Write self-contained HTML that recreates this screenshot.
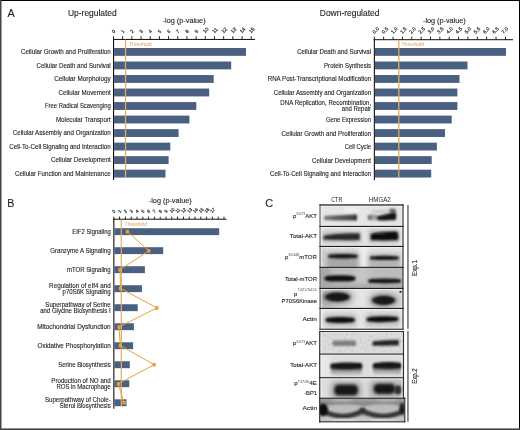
<!DOCTYPE html>
<html><head><meta charset="utf-8"><style>
html,body{margin:0;padding:0;background:#fff;}
#f{position:relative;width:520px;height:430px;overflow:hidden;background:#fff;}
svg{position:absolute;left:0;top:0;will-change:transform;}
text{font-family:'Liberation Sans', sans-serif;}
</style></head><body><div id="f">
<svg width="520" height="430" viewBox="0 0 520 430">
<defs><filter id="g05" x="-50%" y="-100%" width="200%" height="300%"><feGaussianBlur stdDeviation="0.5"/></filter><filter id="g08" x="-50%" y="-100%" width="200%" height="300%"><feGaussianBlur stdDeviation="0.8"/></filter><filter id="g1" x="-50%" y="-100%" width="200%" height="300%"><feGaussianBlur stdDeviation="1.0"/></filter><filter id="g13" x="-50%" y="-100%" width="200%" height="300%"><feGaussianBlur stdDeviation="1.3"/></filter><filter id="g18" x="-50%" y="-100%" width="200%" height="300%"><feGaussianBlur stdDeviation="1.8"/></filter><filter id="g25" x="-50%" y="-100%" width="200%" height="300%"><feGaussianBlur stdDeviation="2.5"/></filter><filter id="g35" x="-50%" y="-100%" width="200%" height="300%"><feGaussianBlur stdDeviation="3.5"/></filter><filter id="nz" x="0" y="0" width="100%" height="100%"><feTurbulence type="fractalNoise" baseFrequency="0.45" numOctaves="2" seed="7" result="t"/><feColorMatrix in="t" type="matrix" values="0 0 0 0 0  0 0 0 0 0  0 0 0 0 0  1.6 0 0 0 -0.75"/></filter><linearGradient id="lg1" x1="0" y1="0" x2="1" y2="0"><stop offset="0" stop-color="#7c7c7c"/><stop offset="0.4" stop-color="#5c5c5c"/><stop offset="0.85" stop-color="#484848"/><stop offset="1" stop-color="#252525"/></linearGradient><clipPath id="c1"><rect x="320.0" y="204.95" width="83.0" height="21.5"/></clipPath><clipPath id="c2"><rect x="320.0" y="226.45" width="83.0" height="20.0"/></clipPath><clipPath id="c3"><rect x="320.0" y="246.45" width="83.0" height="20.900000000000034"/></clipPath><clipPath id="c4"><rect x="320.0" y="267.35" width="83.0" height="21.099999999999966"/></clipPath><clipPath id="c5"><rect x="320.0" y="288.45" width="83.0" height="20.0"/></clipPath><clipPath id="c6"><rect x="320.0" y="308.45" width="83.0" height="20.80000000000001"/></clipPath><clipPath id="c7"><rect x="319.7" y="331.55" width="83.80000000000001" height="22.55000000000001"/></clipPath><linearGradient id="lgsm" x1="0" y1="0" x2="0" y2="1"><stop offset="0" stop-color="#4a4a4a"/><stop offset="0.5" stop-color="#8e8e8e"/><stop offset="1" stop-color="#cacaca"/></linearGradient><clipPath id="c8"><rect x="319.7" y="354.1" width="83.80000000000001" height="23.599999999999966"/></clipPath><clipPath id="c9"><rect x="319.7" y="377.7" width="83.80000000000001" height="20.5"/></clipPath><clipPath id="c10"><rect x="319.7" y="398.2" width="85.10000000000002" height="23.650000000000034"/></clipPath></defs>
<rect x="0" y="0" width="520" height="430" fill="#fff"/>
<text x="7.60" y="17.10" font-size="11.2" textLength="7.20" lengthAdjust="spacingAndGlyphs" fill="#231f20" stroke="#231f20" stroke-width="0.12">A</text>
<text x="68.00" y="16.20" font-size="8.4" textLength="48.70" lengthAdjust="spacingAndGlyphs" fill="#231f20" stroke="#231f20" stroke-width="0.12">Up-regulated</text>
<text x="162.70" y="22.60" font-size="7.25" textLength="42.90" lengthAdjust="spacingAndGlyphs" fill="#231f20" stroke="#231f20" stroke-width="0.12">-log (p-value)</text>
<rect x="113.00" y="38.95" width="142.00" height="1.00" fill="#111" />
<rect x="113.00" y="38.70" width="1.10" height="141.30" fill="#111" />
<rect x="113.05" y="36.20" width="0.90" height="3.00" fill="#111" />
<text transform="translate(113.80,33.50) rotate(-45)" font-size="4.8" fill="#231f20" stroke="#231f20" stroke-width="0.18">0</text>
<rect x="122.23" y="36.20" width="0.90" height="3.00" fill="#111" />
<text transform="translate(122.98,33.50) rotate(-45)" font-size="4.8" fill="#231f20" stroke="#231f20" stroke-width="0.18">1</text>
<rect x="131.41" y="36.20" width="0.90" height="3.00" fill="#111" />
<text transform="translate(132.16,33.50) rotate(-45)" font-size="4.8" fill="#231f20" stroke="#231f20" stroke-width="0.18">2</text>
<rect x="140.59" y="36.20" width="0.90" height="3.00" fill="#111" />
<text transform="translate(141.34,33.50) rotate(-45)" font-size="4.8" fill="#231f20" stroke="#231f20" stroke-width="0.18">3</text>
<rect x="149.77" y="36.20" width="0.90" height="3.00" fill="#111" />
<text transform="translate(150.52,33.50) rotate(-45)" font-size="4.8" fill="#231f20" stroke="#231f20" stroke-width="0.18">4</text>
<rect x="158.95" y="36.20" width="0.90" height="3.00" fill="#111" />
<text transform="translate(159.70,33.50) rotate(-45)" font-size="4.8" fill="#231f20" stroke="#231f20" stroke-width="0.18">5</text>
<rect x="168.13" y="36.20" width="0.90" height="3.00" fill="#111" />
<text transform="translate(168.88,33.50) rotate(-45)" font-size="4.8" fill="#231f20" stroke="#231f20" stroke-width="0.18">6</text>
<rect x="177.31" y="36.20" width="0.90" height="3.00" fill="#111" />
<text transform="translate(178.06,33.50) rotate(-45)" font-size="4.8" fill="#231f20" stroke="#231f20" stroke-width="0.18">7</text>
<rect x="186.49" y="36.20" width="0.90" height="3.00" fill="#111" />
<text transform="translate(187.24,33.50) rotate(-45)" font-size="4.8" fill="#231f20" stroke="#231f20" stroke-width="0.18">8</text>
<rect x="195.67" y="36.20" width="0.90" height="3.00" fill="#111" />
<text transform="translate(196.42,33.50) rotate(-45)" font-size="4.8" fill="#231f20" stroke="#231f20" stroke-width="0.18">9</text>
<rect x="204.85" y="36.20" width="0.90" height="3.00" fill="#111" />
<text transform="translate(205.10,33.40) rotate(-45)" font-size="5.1" fill="#231f20" stroke="#231f20" stroke-width="0.18">10</text>
<rect x="214.03" y="36.20" width="0.90" height="3.00" fill="#111" />
<text transform="translate(214.28,33.40) rotate(-45)" font-size="5.1" fill="#231f20" stroke="#231f20" stroke-width="0.18">11</text>
<rect x="223.21" y="36.20" width="0.90" height="3.00" fill="#111" />
<text transform="translate(223.46,33.40) rotate(-45)" font-size="5.1" fill="#231f20" stroke="#231f20" stroke-width="0.18">12</text>
<rect x="232.39" y="36.20" width="0.90" height="3.00" fill="#111" />
<text transform="translate(232.64,33.40) rotate(-45)" font-size="5.1" fill="#231f20" stroke="#231f20" stroke-width="0.18">13</text>
<rect x="241.57" y="36.20" width="0.90" height="3.00" fill="#111" />
<text transform="translate(241.82,33.40) rotate(-45)" font-size="5.1" fill="#231f20" stroke="#231f20" stroke-width="0.18">14</text>
<rect x="250.75" y="36.20" width="0.90" height="3.00" fill="#111" />
<text transform="translate(251.00,33.40) rotate(-45)" font-size="5.1" fill="#231f20" stroke="#231f20" stroke-width="0.18">15</text>
<rect x="114.10" y="48.00" width="131.90" height="7.85" fill="#4a6080" />
<text x="21.00" y="54.30" font-size="6.6" textLength="89.70" lengthAdjust="spacingAndGlyphs" fill="#231f20" stroke="#231f20" stroke-width="0.12">Cellular Growth and Proliferation</text>
<rect x="114.10" y="61.52" width="117.10" height="7.85" fill="#4a6080" />
<text x="36.50" y="67.82" font-size="6.6" textLength="74.20" lengthAdjust="spacingAndGlyphs" fill="#231f20" stroke="#231f20" stroke-width="0.12">Cellular Death and Survival</text>
<rect x="114.10" y="75.04" width="99.60" height="7.85" fill="#4a6080" />
<text x="54.20" y="81.34" font-size="6.6" textLength="56.50" lengthAdjust="spacingAndGlyphs" fill="#231f20" stroke="#231f20" stroke-width="0.12">Cellular Morphology</text>
<rect x="114.10" y="88.56" width="95.10" height="7.85" fill="#4a6080" />
<text x="58.60" y="94.86" font-size="6.6" textLength="52.10" lengthAdjust="spacingAndGlyphs" fill="#231f20" stroke="#231f20" stroke-width="0.12">Cellular Movement</text>
<rect x="114.10" y="102.08" width="82.20" height="7.85" fill="#4a6080" />
<text x="44.90" y="108.38" font-size="6.6" textLength="65.80" lengthAdjust="spacingAndGlyphs" fill="#231f20" stroke="#231f20" stroke-width="0.12">Free Radical Scavenging</text>
<rect x="114.10" y="115.60" width="75.30" height="7.85" fill="#4a6080" />
<text x="55.90" y="121.90" font-size="6.6" textLength="54.80" lengthAdjust="spacingAndGlyphs" fill="#231f20" stroke="#231f20" stroke-width="0.12">Molecular Transport</text>
<rect x="114.10" y="129.12" width="64.50" height="7.85" fill="#4a6080" />
<text x="12.80" y="135.42" font-size="6.6" textLength="97.90" lengthAdjust="spacingAndGlyphs" fill="#231f20" stroke="#231f20" stroke-width="0.12">Cellular Assembly and Organization</text>
<rect x="114.10" y="142.64" width="56.20" height="7.85" fill="#4a6080" />
<text x="9.30" y="148.94" font-size="6.6" textLength="101.40" lengthAdjust="spacingAndGlyphs" fill="#231f20" stroke="#231f20" stroke-width="0.12">Cell-To-Cell Signaling and Interaction</text>
<rect x="114.10" y="156.16" width="54.50" height="7.85" fill="#4a6080" />
<text x="50.90" y="162.46" font-size="6.6" textLength="59.80" lengthAdjust="spacingAndGlyphs" fill="#231f20" stroke="#231f20" stroke-width="0.12">Cellular Development</text>
<rect x="114.10" y="169.68" width="51.40" height="7.85" fill="#4a6080" />
<text x="15.00" y="175.98" font-size="6.6" textLength="95.70" lengthAdjust="spacingAndGlyphs" fill="#231f20" stroke="#231f20" stroke-width="0.12">Cellular Function and Maintenance</text>
<rect x="124.90" y="39.70" width="1.25" height="137.70" fill="#e3ac62" />
<text x="129.00" y="46.00" font-size="5.0" textLength="22.60" lengthAdjust="spacingAndGlyphs" fill="#e4b474" stroke="#e4b474" stroke-width="0.08">Threshold</text>
<text x="319.80" y="16.30" font-size="8.4" textLength="59.60" lengthAdjust="spacingAndGlyphs" fill="#231f20" stroke="#231f20" stroke-width="0.12">Down-regulated</text>
<text x="423.00" y="22.60" font-size="7.25" textLength="42.70" lengthAdjust="spacingAndGlyphs" fill="#231f20" stroke="#231f20" stroke-width="0.12">-log (p-value)</text>
<rect x="373.80" y="39.20" width="139.20" height="1.00" fill="#111" />
<rect x="373.80" y="38.90" width="1.10" height="141.30" fill="#111" />
<rect x="373.85" y="36.70" width="0.90" height="3.00" fill="#111" />
<text transform="translate(374.50,33.90) rotate(-45)" font-size="5.0" fill="#231f20" stroke="#231f20" stroke-width="0.18">0.0</text>
<rect x="383.21" y="36.70" width="0.90" height="3.00" fill="#111" />
<text transform="translate(383.71,33.90) rotate(-45)" font-size="5.0" fill="#231f20" stroke="#231f20" stroke-width="0.18">0.5</text>
<rect x="392.58" y="36.70" width="0.90" height="3.00" fill="#111" />
<text transform="translate(392.93,33.90) rotate(-45)" font-size="5.0" fill="#231f20" stroke="#231f20" stroke-width="0.18">1.0</text>
<rect x="401.94" y="36.70" width="0.90" height="3.00" fill="#111" />
<text transform="translate(402.14,33.90) rotate(-45)" font-size="5.0" fill="#231f20" stroke="#231f20" stroke-width="0.18">1.5</text>
<rect x="411.31" y="36.70" width="0.90" height="3.00" fill="#111" />
<text transform="translate(411.36,33.90) rotate(-45)" font-size="5.0" fill="#231f20" stroke="#231f20" stroke-width="0.18">2.0</text>
<rect x="420.67" y="36.70" width="0.90" height="3.00" fill="#111" />
<text transform="translate(420.57,33.90) rotate(-45)" font-size="5.0" fill="#231f20" stroke="#231f20" stroke-width="0.18">2.5</text>
<rect x="430.03" y="36.70" width="0.90" height="3.00" fill="#111" />
<text transform="translate(429.78,33.90) rotate(-45)" font-size="5.0" fill="#231f20" stroke="#231f20" stroke-width="0.18">3.0</text>
<rect x="439.40" y="36.70" width="0.90" height="3.00" fill="#111" />
<text transform="translate(439.00,33.90) rotate(-45)" font-size="5.0" fill="#231f20" stroke="#231f20" stroke-width="0.18">3.5</text>
<rect x="448.76" y="36.70" width="0.90" height="3.00" fill="#111" />
<text transform="translate(448.21,33.90) rotate(-45)" font-size="5.0" fill="#231f20" stroke="#231f20" stroke-width="0.18">4.0</text>
<rect x="458.13" y="36.70" width="0.90" height="3.00" fill="#111" />
<text transform="translate(457.43,33.90) rotate(-45)" font-size="5.0" fill="#231f20" stroke="#231f20" stroke-width="0.18">4.5</text>
<rect x="467.49" y="36.70" width="0.90" height="3.00" fill="#111" />
<text transform="translate(466.64,33.90) rotate(-45)" font-size="5.0" fill="#231f20" stroke="#231f20" stroke-width="0.18">5.0</text>
<rect x="476.85" y="36.70" width="0.90" height="3.00" fill="#111" />
<text transform="translate(475.85,33.90) rotate(-45)" font-size="5.0" fill="#231f20" stroke="#231f20" stroke-width="0.18">5.5</text>
<rect x="486.22" y="36.70" width="0.90" height="3.00" fill="#111" />
<text transform="translate(485.07,33.90) rotate(-45)" font-size="5.0" fill="#231f20" stroke="#231f20" stroke-width="0.18">6.0</text>
<rect x="495.58" y="36.70" width="0.90" height="3.00" fill="#111" />
<text transform="translate(494.28,33.90) rotate(-45)" font-size="5.0" fill="#231f20" stroke="#231f20" stroke-width="0.18">6.5</text>
<rect x="504.95" y="36.70" width="0.90" height="3.00" fill="#111" />
<text transform="translate(503.50,33.90) rotate(-45)" font-size="5.0" fill="#231f20" stroke="#231f20" stroke-width="0.18">7.0</text>
<rect x="374.90" y="48.00" width="131.10" height="7.85" fill="#4a6080" />
<text x="297.20" y="54.40" font-size="6.6" textLength="73.90" lengthAdjust="spacingAndGlyphs" fill="#231f20" stroke="#231f20" stroke-width="0.12">Cellular Death and Survival</text>
<rect x="374.90" y="61.52" width="92.60" height="7.85" fill="#4a6080" />
<text x="324.10" y="67.92" font-size="6.6" textLength="47.00" lengthAdjust="spacingAndGlyphs" fill="#231f20" stroke="#231f20" stroke-width="0.12">Protein Synthesis</text>
<rect x="374.90" y="75.04" width="84.60" height="7.85" fill="#4a6080" />
<text x="267.70" y="81.44" font-size="6.6" textLength="103.40" lengthAdjust="spacingAndGlyphs" fill="#231f20" stroke="#231f20" stroke-width="0.12">RNA Post-Transcriptional Modification</text>
<rect x="374.90" y="88.56" width="82.50" height="7.85" fill="#4a6080" />
<text x="273.70" y="94.96" font-size="6.6" textLength="97.40" lengthAdjust="spacingAndGlyphs" fill="#231f20" stroke="#231f20" stroke-width="0.12">Cellular Assembly and Organization</text>
<rect x="374.90" y="102.08" width="82.50" height="7.85" fill="#4a6080" />
<text x="280.30" y="104.90" font-size="6.6" textLength="90.80" lengthAdjust="spacingAndGlyphs" fill="#231f20" stroke="#231f20" stroke-width="0.12">DNA Replication, Recombination,</text>
<text x="341.80" y="111.10" font-size="6.6" textLength="29.30" lengthAdjust="spacingAndGlyphs" fill="#231f20" stroke="#231f20" stroke-width="0.12">and Repair</text>
<rect x="374.90" y="115.60" width="76.80" height="7.85" fill="#4a6080" />
<text x="325.90" y="122.00" font-size="6.6" textLength="45.20" lengthAdjust="spacingAndGlyphs" fill="#231f20" stroke="#231f20" stroke-width="0.12">Gene Expression</text>
<rect x="374.90" y="129.12" width="70.10" height="7.85" fill="#4a6080" />
<text x="281.50" y="135.52" font-size="6.6" textLength="89.60" lengthAdjust="spacingAndGlyphs" fill="#231f20" stroke="#231f20" stroke-width="0.12">Cellular Growth and Proliferation</text>
<rect x="374.90" y="142.64" width="62.00" height="7.85" fill="#4a6080" />
<text x="344.70" y="149.04" font-size="6.6" textLength="26.40" lengthAdjust="spacingAndGlyphs" fill="#231f20" stroke="#231f20" stroke-width="0.12">Cell Cycle</text>
<rect x="374.90" y="156.16" width="56.80" height="7.85" fill="#4a6080" />
<text x="312.00" y="162.56" font-size="6.6" textLength="59.10" lengthAdjust="spacingAndGlyphs" fill="#231f20" stroke="#231f20" stroke-width="0.12">Cellular Development</text>
<rect x="374.90" y="169.68" width="56.30" height="7.85" fill="#4a6080" />
<text x="270.00" y="176.08" font-size="6.6" textLength="101.10" lengthAdjust="spacingAndGlyphs" fill="#231f20" stroke="#231f20" stroke-width="0.12">Cell-To-Cell Signaling and Interaction</text>
<rect x="398.20" y="39.90" width="1.25" height="137.50" fill="#e3ac62" />
<text x="401.50" y="46.00" font-size="5.0" textLength="22.60" lengthAdjust="spacingAndGlyphs" fill="#e4b474" stroke="#e4b474" stroke-width="0.08">Threshold</text>
<text x="7.20" y="206.60" font-size="11.0" textLength="7.10" lengthAdjust="spacingAndGlyphs" fill="#231f20" stroke="#231f20" stroke-width="0.12">B</text>
<text x="148.80" y="202.60" font-size="7.25" textLength="42.90" lengthAdjust="spacingAndGlyphs" fill="#231f20" stroke="#231f20" stroke-width="0.12">-log (p-value)</text>
<rect x="113.30" y="218.70" width="113.30" height="1.00" fill="#111" />
<rect x="113.30" y="218.70" width="1.10" height="190.10" fill="#111" />
<rect x="113.35" y="216.60" width="0.90" height="2.60" fill="#111" />
<text transform="translate(114.00,213.30) rotate(-45)" font-size="4.5" fill="#231f20" stroke="#231f20" stroke-width="0.18">0</text>
<rect x="119.15" y="216.60" width="0.90" height="2.60" fill="#111" />
<text transform="translate(119.80,213.30) rotate(-45)" font-size="4.5" fill="#231f20" stroke="#231f20" stroke-width="0.18">1</text>
<rect x="124.95" y="216.60" width="0.90" height="2.60" fill="#111" />
<text transform="translate(125.60,213.30) rotate(-45)" font-size="4.5" fill="#231f20" stroke="#231f20" stroke-width="0.18">2</text>
<rect x="130.75" y="216.60" width="0.90" height="2.60" fill="#111" />
<text transform="translate(131.40,213.30) rotate(-45)" font-size="4.5" fill="#231f20" stroke="#231f20" stroke-width="0.18">3</text>
<rect x="136.55" y="216.60" width="0.90" height="2.60" fill="#111" />
<text transform="translate(137.20,213.30) rotate(-45)" font-size="4.5" fill="#231f20" stroke="#231f20" stroke-width="0.18">4</text>
<rect x="142.35" y="216.60" width="0.90" height="2.60" fill="#111" />
<text transform="translate(143.00,213.30) rotate(-45)" font-size="4.5" fill="#231f20" stroke="#231f20" stroke-width="0.18">5</text>
<rect x="148.15" y="216.60" width="0.90" height="2.60" fill="#111" />
<text transform="translate(148.80,213.30) rotate(-45)" font-size="4.5" fill="#231f20" stroke="#231f20" stroke-width="0.18">6</text>
<rect x="153.95" y="216.60" width="0.90" height="2.60" fill="#111" />
<text transform="translate(154.60,213.30) rotate(-45)" font-size="4.5" fill="#231f20" stroke="#231f20" stroke-width="0.18">7</text>
<rect x="159.75" y="216.60" width="0.90" height="2.60" fill="#111" />
<text transform="translate(160.40,213.30) rotate(-45)" font-size="4.5" fill="#231f20" stroke="#231f20" stroke-width="0.18">8</text>
<rect x="165.55" y="216.60" width="0.90" height="2.60" fill="#111" />
<text transform="translate(166.20,213.30) rotate(-45)" font-size="4.5" fill="#231f20" stroke="#231f20" stroke-width="0.18">9</text>
<rect x="171.35" y="216.60" width="0.90" height="2.60" fill="#111" />
<text transform="translate(171.50,213.30) rotate(-45)" font-size="4.5" fill="#231f20" stroke="#231f20" stroke-width="0.18">10</text>
<rect x="177.15" y="216.60" width="0.90" height="2.60" fill="#111" />
<text transform="translate(177.30,213.30) rotate(-45)" font-size="4.5" fill="#231f20" stroke="#231f20" stroke-width="0.18">11</text>
<rect x="182.95" y="216.60" width="0.90" height="2.60" fill="#111" />
<text transform="translate(183.10,213.30) rotate(-45)" font-size="4.5" fill="#231f20" stroke="#231f20" stroke-width="0.18">12</text>
<rect x="188.75" y="216.60" width="0.90" height="2.60" fill="#111" />
<text transform="translate(188.90,213.30) rotate(-45)" font-size="4.5" fill="#231f20" stroke="#231f20" stroke-width="0.18">13</text>
<rect x="194.55" y="216.60" width="0.90" height="2.60" fill="#111" />
<text transform="translate(194.70,213.30) rotate(-45)" font-size="4.5" fill="#231f20" stroke="#231f20" stroke-width="0.18">14</text>
<rect x="200.35" y="216.60" width="0.90" height="2.60" fill="#111" />
<text transform="translate(200.50,213.30) rotate(-45)" font-size="4.5" fill="#231f20" stroke="#231f20" stroke-width="0.18">15</text>
<rect x="206.15" y="216.60" width="0.90" height="2.60" fill="#111" />
<text transform="translate(206.30,213.30) rotate(-45)" font-size="4.5" fill="#231f20" stroke="#231f20" stroke-width="0.18">16</text>
<rect x="211.95" y="216.60" width="0.90" height="2.60" fill="#111" />
<text transform="translate(212.10,213.30) rotate(-45)" font-size="4.5" fill="#231f20" stroke="#231f20" stroke-width="0.18">17</text>
<rect x="217.75" y="216.60" width="0.90" height="2.60" fill="#111" />
<rect x="223.55" y="216.60" width="0.90" height="2.60" fill="#111" />
<rect x="114.40" y="228.20" width="104.80" height="6.90" fill="#4a6080" />
<text x="72.30" y="233.55" font-size="6.6" textLength="38.40" lengthAdjust="spacingAndGlyphs" fill="#231f20" stroke="#231f20" stroke-width="0.12">EIF2 Signaling</text>
<rect x="114.40" y="247.21" width="48.80" height="6.90" fill="#4a6080" />
<text x="50.20" y="252.56" font-size="6.6" textLength="60.50" lengthAdjust="spacingAndGlyphs" fill="#231f20" stroke="#231f20" stroke-width="0.12">Granzyme A Signaling</text>
<rect x="114.40" y="266.22" width="30.50" height="6.90" fill="#4a6080" />
<text x="67.00" y="271.57" font-size="6.6" textLength="43.70" lengthAdjust="spacingAndGlyphs" fill="#231f20" stroke="#231f20" stroke-width="0.12">mTOR Signaling</text>
<rect x="114.40" y="285.23" width="27.50" height="6.90" fill="#4a6080" />
<text x="49.10" y="287.58" font-size="6.6" textLength="61.60" lengthAdjust="spacingAndGlyphs" fill="#231f20" stroke="#231f20" stroke-width="0.12">Regulation of eIf4 and</text>
<text x="62.60" y="294.08" font-size="6.6" textLength="48.10" lengthAdjust="spacingAndGlyphs" fill="#231f20" stroke="#231f20" stroke-width="0.12">p70S6K Signaling</text>
<rect x="114.40" y="304.24" width="23.30" height="6.90" fill="#4a6080" />
<text x="45.30" y="306.59" font-size="6.6" textLength="65.40" lengthAdjust="spacingAndGlyphs" fill="#231f20" stroke="#231f20" stroke-width="0.12">Superpathway of Serine</text>
<text x="40.20" y="313.09" font-size="6.6" textLength="70.50" lengthAdjust="spacingAndGlyphs" fill="#231f20" stroke="#231f20" stroke-width="0.12">and Glycine Biosynthesis I</text>
<rect x="114.40" y="323.25" width="19.50" height="6.90" fill="#4a6080" />
<text x="37.20" y="328.60" font-size="6.6" textLength="73.50" lengthAdjust="spacingAndGlyphs" fill="#231f20" stroke="#231f20" stroke-width="0.12">Mitochondrial Dysfunction</text>
<rect x="114.40" y="342.26" width="18.70" height="6.90" fill="#4a6080" />
<text x="37.60" y="347.61" font-size="6.6" textLength="73.10" lengthAdjust="spacingAndGlyphs" fill="#231f20" stroke="#231f20" stroke-width="0.12">Oxidative Phosphorylation</text>
<rect x="114.40" y="361.27" width="15.40" height="6.90" fill="#4a6080" />
<text x="58.20" y="366.62" font-size="6.6" textLength="52.50" lengthAdjust="spacingAndGlyphs" fill="#231f20" stroke="#231f20" stroke-width="0.12">Serine Biosynthesis</text>
<rect x="114.40" y="380.28" width="14.90" height="6.90" fill="#4a6080" />
<text x="51.30" y="382.63" font-size="6.6" textLength="59.40" lengthAdjust="spacingAndGlyphs" fill="#231f20" stroke="#231f20" stroke-width="0.12">Production of NO and</text>
<text x="56.40" y="389.13" font-size="6.6" textLength="54.30" lengthAdjust="spacingAndGlyphs" fill="#231f20" stroke="#231f20" stroke-width="0.12">ROS in Macrophage</text>
<rect x="114.40" y="399.29" width="12.10" height="6.90" fill="#4a6080" />
<text x="44.90" y="401.64" font-size="6.6" textLength="65.80" lengthAdjust="spacingAndGlyphs" fill="#231f20" stroke="#231f20" stroke-width="0.12">Superpathway of Chole-</text>
<text x="59.70" y="408.14" font-size="6.6" textLength="51.00" lengthAdjust="spacingAndGlyphs" fill="#231f20" stroke="#231f20" stroke-width="0.12">Sterol Biosynthesis</text>
<rect x="120.70" y="219.70" width="1.20" height="186.30" fill="#e3ac62" />
<text x="124.60" y="226.40" font-size="5.0" textLength="22.40" lengthAdjust="spacingAndGlyphs" fill="#e4b474" stroke="#e4b474" stroke-width="0.08">Threshold</text>
<polyline points="127.4,231.6 148.8,250.8 120.0,269.7 120.5,288.4 156.9,307.9 119.0,327.0 120.3,345.5 154.1,364.6 118.3,383.8 124.0,402.6" fill="none" stroke="#eba03a" stroke-width="1"/>
<rect x="125.80" y="229.90" width="3.20" height="3.60" fill="#eba03a" />
<rect x="147.20" y="249.10" width="3.20" height="3.60" fill="#eba03a" />
<rect x="118.40" y="268.00" width="3.20" height="3.60" fill="#eba03a" />
<rect x="118.90" y="286.70" width="3.20" height="3.60" fill="#eba03a" />
<rect x="155.30" y="306.20" width="3.20" height="3.60" fill="#eba03a" />
<rect x="117.40" y="325.30" width="3.20" height="3.60" fill="#eba03a" />
<rect x="118.70" y="343.80" width="3.20" height="3.60" fill="#eba03a" />
<rect x="152.50" y="362.90" width="3.20" height="3.60" fill="#eba03a" />
<rect x="116.70" y="382.10" width="3.20" height="3.60" fill="#eba03a" />
<rect x="122.40" y="400.90" width="3.20" height="3.60" fill="#eba03a" />
<text x="265.30" y="206.60" font-size="11.0" textLength="7.90" lengthAdjust="spacingAndGlyphs" fill="#231f20" stroke="#231f20" stroke-width="0.12">C</text>
<text x="331.20" y="202.30" font-size="6.3" textLength="11.10" lengthAdjust="spacingAndGlyphs" fill="#231f20" stroke="#231f20" stroke-width="0">CTR</text>
<text x="368.80" y="202.30" font-size="6.3" textLength="22.00" lengthAdjust="spacingAndGlyphs" fill="#231f20" stroke="#231f20" stroke-width="0">HMGA2</text>
<text x="316.8" y="217.60" font-size="6.0" text-anchor="end" fill="#231f20" stroke="#231f20" stroke-width="0.12">p<tspan font-size="3.8" dy="-2.6" fill="#555" stroke="none">S473</tspan><tspan dy="2.6">AKT</tspan></text>
<text x="289.80" y="238.40" font-size="6.0" textLength="27.20" lengthAdjust="spacingAndGlyphs" fill="#231f20" stroke="#231f20" stroke-width="0.12">Total-AKT</text>
<text x="316.8" y="259.00" font-size="6.0" text-anchor="end" fill="#231f20" stroke="#231f20" stroke-width="0.12">p<tspan font-size="3.8" dy="-2.6" fill="#555" stroke="none">S2448</tspan><tspan dy="2.6">mTOR</tspan></text>
<text x="285.00" y="281.30" font-size="6.0" textLength="32.00" lengthAdjust="spacingAndGlyphs" fill="#231f20" stroke="#231f20" stroke-width="0.12">Total-mTOR</text>
<text x="316.8" y="296.4" font-size="6.0" text-anchor="end" fill="#231f20" stroke="#231f20" stroke-width="0.12">p<tspan font-size="4.0" dy="-5.5" fill="#555" stroke="none">T421/S424</tspan></text>
<text x="281.60" y="303.40" font-size="6.0" textLength="35.40" lengthAdjust="spacingAndGlyphs" fill="#231f20" stroke="#231f20" stroke-width="0.12">P70S6Kinase</text>
<text x="302.40" y="321.30" font-size="6.0" textLength="14.60" lengthAdjust="spacingAndGlyphs" fill="#231f20" stroke="#231f20" stroke-width="0.12">Actin</text>
<text x="316.8" y="345.20" font-size="6.0" text-anchor="end" fill="#231f20" stroke="#231f20" stroke-width="0.12">p<tspan font-size="3.8" dy="-2.6" fill="#555" stroke="none">S473</tspan><tspan dy="2.6">AKT</tspan></text>
<text x="290.20" y="366.80" font-size="6.0" textLength="26.80" lengthAdjust="spacingAndGlyphs" fill="#231f20" stroke="#231f20" stroke-width="0.12">Total-AKT</text>
<text x="316.8" y="385.20" font-size="6.0" text-anchor="end" fill="#231f20" stroke="#231f20" stroke-width="0.12">p<tspan font-size="3.8" dy="-2.6" fill="#555" stroke="none">T37/46</tspan><tspan dy="2.6">4E</tspan></text>
<text x="304.20" y="394.50" font-size="6.0" textLength="12.80" lengthAdjust="spacingAndGlyphs" fill="#231f20" stroke="#231f20" stroke-width="0.12">-BP1</text>
<text x="302.60" y="410.30" font-size="6.0" textLength="14.40" lengthAdjust="spacingAndGlyphs" fill="#231f20" stroke="#231f20" stroke-width="0.12">Actin</text>
<rect x="407.30" y="205.10" width="1.30" height="123.70" fill="#555" />
<rect x="407.30" y="330.80" width="1.30" height="90.90" fill="#555" />
<text transform="translate(416.8,275.9) rotate(-90)" font-size="6.6" textLength="15.8" lengthAdjust="spacingAndGlyphs" fill="#231f20" stroke="#231f20" stroke-width="0.1">Exp.1</text>
<text transform="translate(416.8,383.8) rotate(-90)" font-size="6.6" textLength="15.5" lengthAdjust="spacingAndGlyphs" fill="#231f20" stroke="#231f20" stroke-width="0.1">Exp.2</text>
<g clip-path="url(#c1)">
<rect x="320.00" y="204.95" width="83.00" height="21.50" fill="#e5e5e5" />
<rect x="345.00" y="207.00" width="15.00" height="6.00" rx="3" fill="#efefef" filter="url(#g18)"/>
<path d="M324.2,216.0 C334,215.4 346,215.0 356.9,214.5 L356.9,220.4 C346,220.6 334,220.5 324.2,220.0 Z" fill="url(#lg1)" filter="url(#g08)"/>
<ellipse cx="373.00" cy="217.30" rx="5.80" ry="3.00" fill="#9c9c9c" filter="url(#g1)"/>
<ellipse cx="369.80" cy="217.60" rx="1.60" ry="2.40" fill="#6a6a6a" filter="url(#g08)"/>
<ellipse cx="380.00" cy="211.50" rx="9.00" ry="1.60" fill="#c8c8c8" filter="url(#g13)"/>
<ellipse cx="392.50" cy="210.80" rx="3.50" ry="2.20" fill="#666" filter="url(#g1)"/>
<path d="M378,216 C384,214.5 390,213 394,212.2 C396.6,212.2 396.6,215 396.1,217 L395.9,220.1 C389,220.7 383,220.7 378,220.3 C376.6,219 376.6,217 378,216 Z" fill="#141414" filter="url(#g08)"/>
<rect x="321.20" y="204.95" width="1.0" height="21.50" fill="#f4f4f4" opacity="0.7"/>
<rect x="400.80" y="204.95" width="1.0" height="21.50" fill="#f4f4f4" opacity="0.5"/>
<rect x="320.0" y="205.55" width="83.00" height="1.0" fill="#f6f6f6" opacity="0.6"/>
</g>
<g clip-path="url(#c2)">
<rect x="320.00" y="226.45" width="83.00" height="20.00" fill="#e4e4e4" />
<rect x="321.00" y="230.50" width="41.00" height="13.00" rx="4" fill="#c6c6c6" filter="url(#g18)"/>
<rect x="368.00" y="229.50" width="32.00" height="14.00" rx="4" fill="#c2c2c2" filter="url(#g18)"/>
<path d="M323.5,235.8 C335,233.6 350,233.2 359.8,233.4 L359.8,239.9 C350,240.3 335,240.3 323.5,239.6 Z" fill="#2a2a2a" filter="url(#g08)"/>
<path d="M370.7,234 C378,232 388,231.4 396,231.5 C398.5,231.8 398.5,236 398,240 C388,240.6 378,240.5 370.7,240 Z" fill="#101010" filter="url(#g08)"/>
<rect x="373.00" y="233.20" width="12.00" height="1.40" rx="0.7" fill="#3a3a3a" filter="url(#g05)"/>
<rect x="321.20" y="226.45" width="1.0" height="20.00" fill="#f4f4f4" opacity="0.7"/>
<rect x="400.80" y="226.45" width="1.0" height="20.00" fill="#f4f4f4" opacity="0.5"/>
<rect x="320.0" y="227.05" width="83.00" height="1.0" fill="#f6f6f6" opacity="0.6"/>
</g>
<g clip-path="url(#c3)">
<rect x="320.00" y="246.45" width="83.00" height="20.90" fill="#e0e0e0" />
<rect x="318.00" y="246.00" width="8.00" height="22.00" rx="0" fill="#cdcdcd" filter="url(#g25)"/>
<rect x="358.00" y="246.00" width="10.00" height="22.00" rx="0" fill="#efefef" filter="url(#g25)"/>
<rect x="326.00" y="252.00" width="33.00" height="18.00" rx="3" fill="#a6a6a6" filter="url(#g25)"/>
<rect x="368.00" y="254.00" width="33.00" height="16.00" rx="3" fill="#b4b4b4" filter="url(#g25)"/>
<path d="M329.50,254.80 C336.23,253.70 349.67,253.70 356.40,254.80 C358.20,254.80 358.20,257.80 356.40,257.80 C349.67,258.90 336.23,258.90 329.50,257.80 C327.70,257.80 327.70,254.80 329.50,254.80 Z" fill="#121212" filter="url(#g08)"/>
<path d="M371.20,256.40 C377.80,255.50 391.00,255.50 397.60,256.40 C399.40,256.40 399.40,259.40 397.60,259.40 C391.00,260.30 377.80,260.30 371.20,259.40 C369.40,259.40 369.40,256.40 371.20,256.40 Z" fill="#181818" filter="url(#g08)"/>
<rect x="321.20" y="246.45" width="1.0" height="20.90" fill="#f4f4f4" opacity="0.7"/>
<rect x="400.80" y="246.45" width="1.0" height="20.90" fill="#f4f4f4" opacity="0.5"/>
<rect x="320.0" y="247.05" width="83.00" height="1.0" fill="#f6f6f6" opacity="0.6"/>
</g>
<g clip-path="url(#c4)">
<rect x="320.00" y="267.35" width="83.00" height="21.10" fill="#bcbcbc" />
<rect x="318.00" y="266.00" width="12.00" height="24.00" rx="0" fill="#a6a6a6" filter="url(#g35)"/>
<rect x="356.00" y="266.00" width="12.00" height="24.00" rx="0" fill="#c8c8c8" filter="url(#g35)"/>
<rect x="318.00" y="284.00" width="87.00" height="8.00" rx="0" fill="#a8a8a8" filter="url(#g25)"/>
<path d="M326.50,276.15 C333.25,274.90 346.75,274.90 353.50,276.15 C356.20,276.15 356.20,280.65 353.50,280.65 C346.75,281.90 333.25,281.90 326.50,280.65 C323.80,280.65 323.80,276.15 326.50,276.15 Z" fill="#0f0f0f" filter="url(#g08)"/>
<path d="M369.80,279.20 C377.23,278.40 392.07,278.40 399.50,279.20 C401.66,279.20 401.66,282.80 399.50,282.80 C392.07,283.60 377.23,283.60 369.80,282.80 C367.64,282.80 367.64,279.20 369.80,279.20 Z" fill="#141414" filter="url(#g08)"/>
</g>
<g clip-path="url(#c5)">
<rect x="320.00" y="288.45" width="83.00" height="20.00" fill="#d8d8d8" />
<rect x="318.00" y="288.00" width="14.00" height="21.00" rx="0" fill="#b4b4b4" filter="url(#g35)"/>
<rect x="350.00" y="288.00" width="22.00" height="21.00" rx="0" fill="#e6e6e6" filter="url(#g35)"/>
<rect x="318.00" y="288.00" width="87.00" height="3.00" rx="0" fill="#e2e2e2" filter="url(#g1)"/>
<ellipse cx="337.20" cy="297.20" rx="16.50" ry="7.50" fill="#a0a0a0" filter="url(#g35)"/>
<ellipse cx="383.60" cy="300.40" rx="15.50" ry="7.30" fill="#a4a4a4" filter="url(#g35)"/>
<ellipse cx="337.20" cy="297.00" rx="13.00" ry="4.60" fill="#1c1c1c" filter="url(#g18)"/>
<ellipse cx="337.60" cy="297.00" rx="9.50" ry="3.20" fill="#141414" filter="url(#g1)"/>
<ellipse cx="383.60" cy="300.30" rx="12.00" ry="4.60" fill="#1c1c1c" filter="url(#g18)"/>
<ellipse cx="384.00" cy="300.50" rx="8.50" ry="3.20" fill="#141414" filter="url(#g1)"/>
<rect x="399.60" y="290.80" width="2.40" height="2.00" rx="0.5" fill="#222"/>
<rect x="321.20" y="288.45" width="1.0" height="20.00" fill="#f4f4f4" opacity="0.7"/>
<rect x="400.80" y="288.45" width="1.0" height="20.00" fill="#f4f4f4" opacity="0.5"/>
<rect x="320.0" y="289.05" width="83.00" height="1.0" fill="#f6f6f6" opacity="0.6"/>
</g>
<g clip-path="url(#c6)">
<rect x="320.00" y="308.45" width="83.00" height="20.80" fill="#e8e8e8" />
<rect x="324.00" y="313.50" width="33.00" height="13.50" rx="4" fill="#bebebe" filter="url(#g25)"/>
<rect x="365.00" y="313.00" width="35.00" height="13.50" rx="4" fill="#bebebe" filter="url(#g25)"/>
<path d="M327.30,318.05 C333.77,316.75 346.73,316.75 353.20,318.05 C355.60,318.05 355.60,322.05 353.20,322.05 C346.73,323.35 333.77,323.35 327.30,322.05 C324.90,322.05 324.90,318.05 327.30,318.05 Z" fill="#101010" filter="url(#g08)"/>
<path d="M368.30,317.40 C375.38,316.20 389.53,315.90 396.60,317.10 C399.00,317.10 399.00,321.10 396.60,321.10 C389.53,322.30 375.38,322.60 368.30,321.40 C365.90,321.40 365.90,317.40 368.30,317.40 Z" fill="#101010" filter="url(#g08)"/>
<rect x="321.20" y="308.45" width="1.0" height="20.80" fill="#f4f4f4" opacity="0.7"/>
<rect x="400.80" y="308.45" width="1.0" height="20.80" fill="#f4f4f4" opacity="0.5"/>
<rect x="320.0" y="309.05" width="83.00" height="1.0" fill="#f6f6f6" opacity="0.6"/>
</g>
<rect x="319.40" y="204.40" width="1.20" height="125.40" fill="#6a6a6a" />
<rect x="402.40" y="204.40" width="1.20" height="125.40" fill="#3a3a3a" />
<rect x="319.40" y="204.30" width="84.20" height="1.30" fill="#2a2a2a" />
<rect x="319.40" y="225.90" width="84.20" height="1.10" fill="#1e1e1e" />
<rect x="319.40" y="245.90" width="84.20" height="1.10" fill="#1e1e1e" />
<rect x="319.40" y="266.80" width="84.20" height="1.10" fill="#1e1e1e" />
<rect x="319.40" y="287.90" width="84.20" height="1.10" fill="#1e1e1e" />
<rect x="319.40" y="307.90" width="84.20" height="1.10" fill="#1e1e1e" />
<rect x="319.40" y="328.70" width="84.20" height="1.10" fill="#2a2a2a" />
<g clip-path="url(#c7)">
<rect x="319.70" y="331.55" width="83.80" height="22.55" fill="#dcdcdc" />
<rect x="319.7" y="331.55" width="83.80000000000001" height="22.55000000000001" filter="url(#nz)" opacity="0.16"/>
<rect x="332.40" y="340.60" width="23.80" height="5.40" rx="2" fill="#7e7e7e" filter="url(#g1)"/>
<path d="M372.5,341.5 C380,340.5 390,340 398.8,339.8 L398.8,345.6 C390,345.8 380,345.8 372.5,345.8 Z" fill="#262626" filter="url(#g08)"/>
<rect x="320.90" y="331.55" width="1.0" height="22.55" fill="#f4f4f4" opacity="0.7"/>
<rect x="401.30" y="331.55" width="1.0" height="22.55" fill="#f4f4f4" opacity="0.5"/>
<rect x="319.7" y="332.15" width="83.80" height="1.0" fill="#f6f6f6" opacity="0.6"/>
</g>
<g clip-path="url(#c8)">
<rect x="319.70" y="354.10" width="83.80" height="23.60" fill="#dddddd" />
<rect x="318.00" y="354.00" width="12.00" height="24.00" rx="0" fill="#e8e8e8" filter="url(#g25)"/>
<rect x="331.00" y="365.00" width="31.00" height="10.00" rx="3" fill="url(#lgsm)" filter="url(#g13)"/>
<rect x="373.00" y="364.50" width="28.00" height="10.00" rx="3" fill="url(#lgsm)" filter="url(#g13)"/>
<path d="M331.5,363.6 C340,362.2 352,362.2 361.2,363.0 C362.6,364.5 362.6,367.5 361.2,368.6 C352,369.6 340,369.6 331.5,368.6 C329.8,367.5 329.8,364.8 331.5,363.6 Z" fill="#121212" filter="url(#g08)"/>
<path d="M374.0,363.2 C383,361.8 393,361.8 400.3,362.8 C401.8,364.2 401.8,367.0 400.3,368.0 C393,369.0 383,369.0 374.0,368.0 C372.4,367.0 372.4,364.4 374.0,363.2 Z" fill="#121212" filter="url(#g08)"/>
<rect x="320.90" y="354.1" width="1.0" height="23.60" fill="#f4f4f4" opacity="0.7"/>
<rect x="401.30" y="354.1" width="1.0" height="23.60" fill="#f4f4f4" opacity="0.5"/>
<rect x="319.7" y="354.70" width="83.80" height="1.0" fill="#f6f6f6" opacity="0.6"/>
</g>
<g clip-path="url(#c9)">
<rect x="319.70" y="377.70" width="83.80" height="20.50" fill="#dedede" />
<rect x="330.00" y="381.00" width="32.00" height="18.00" rx="5" fill="#b0b0b0" filter="url(#g25)"/>
<rect x="369.00" y="380.00" width="35.00" height="18.00" rx="5" fill="#b0b0b0" filter="url(#g25)"/>
<rect x="334.20" y="384.60" width="23.80" height="11.00" rx="4.5" fill="#141414" filter="url(#g18)"/>
<rect x="373.50" y="383.80" width="22.00" height="10.10" rx="4.5" fill="#141414" filter="url(#g18)"/>
<ellipse cx="398.00" cy="390.00" rx="3.60" ry="4.40" fill="#2e2e2e" filter="url(#g1)"/>
<rect x="320.90" y="377.7" width="1.0" height="20.50" fill="#f4f4f4" opacity="0.7"/>
<rect x="401.30" y="377.7" width="1.0" height="20.50" fill="#f4f4f4" opacity="0.5"/>
<rect x="319.7" y="378.30" width="83.80" height="1.0" fill="#f6f6f6" opacity="0.6"/>
</g>
<g clip-path="url(#c10)">
<rect x="319.70" y="398.20" width="85.10" height="23.65" fill="#a2a2a2" />
<rect x="319.00" y="398.00" width="86.00" height="5.00" rx="0" fill="#9c9c9c"/>
<ellipse cx="342.00" cy="400.50" rx="10.00" ry="2.00" fill="#b2b2b2" filter="url(#g13)"/>
<ellipse cx="386.00" cy="400.50" rx="10.00" ry="2.00" fill="#b2b2b2" filter="url(#g13)"/>
<rect x="319.00" y="402.20" width="86.00" height="3.00" rx="0" fill="#848484" filter="url(#g1)"/>
<rect x="319.00" y="416.50" width="86.00" height="7.50" rx="0" fill="#c6c6c6" filter="url(#g1)"/>
<ellipse cx="344.00" cy="409.00" rx="21.50" ry="4.60" fill="#bcbcbc" filter="url(#g1)"/>
<ellipse cx="383.00" cy="408.80" rx="19.50" ry="4.60" fill="#bcbcbc" filter="url(#g1)"/>
<path d="M322,410.5 Q344,422.5 365,409.5" fill="none" stroke="#363636" stroke-width="4.6" filter="url(#g13)"/>
<path d="M360,409.5 Q383,422.5 404,410.5" fill="none" stroke="#363636" stroke-width="4.6" filter="url(#g13)"/>
<ellipse cx="344.00" cy="420.60" rx="13.00" ry="1.70" fill="#dedede" filter="url(#g1)"/>
<ellipse cx="383.00" cy="420.60" rx="13.00" ry="1.70" fill="#dedede" filter="url(#g1)"/>
<ellipse cx="323.00" cy="409.80" rx="5.00" ry="6.20" fill="#0c0c0c" filter="url(#g1)"/>
<ellipse cx="402.20" cy="408.60" rx="2.80" ry="5.60" fill="#1a1a1a" filter="url(#g1)"/>
</g>
<rect x="319.15" y="331.00" width="1.10" height="91.40" fill="#2a2a2a" />
<rect x="402.95" y="331.00" width="1.10" height="67.60" fill="#2e2e2e" />
<rect x="404.25" y="397.60" width="1.10" height="24.80" fill="#2e2e2e" />
<rect x="319.10" y="331.05" width="85.00" height="1.00" fill="#2a2a2a" />
<rect x="319.10" y="353.60" width="85.00" height="1.00" fill="#1e1e1e" />
<rect x="319.10" y="377.20" width="85.00" height="1.00" fill="#1e1e1e" />
<rect x="319.10" y="397.70" width="86.30" height="1.00" fill="#1e1e1e" />
<rect x="319.10" y="421.35" width="86.30" height="1.00" fill="#1e1e1e" />
<rect x="0" y="0" width="520" height="1" fill="#000"/>
<rect x="519" y="0" width="1" height="430" fill="#000"/>
<rect x="0" y="428.4" width="520" height="1.6" fill="#444"/>
<rect x="0" y="0" width="1.5" height="430" fill="#444"/>
</svg>
</div></body></html>
